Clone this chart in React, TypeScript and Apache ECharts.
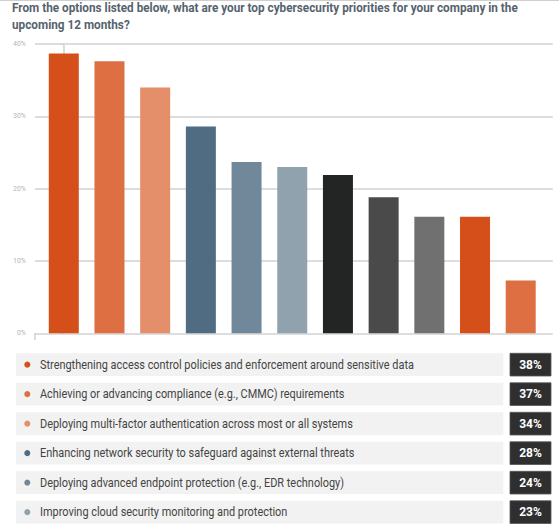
import React, { useEffect, useRef } from "react";
import * as echarts from "echarts";

const titleLines = [
  "From the options listed below, what are your top cybersecurity priorities for your company in the",
  "upcoming 12 months?",
];
const barValues = [38.7, 37.6, 34.0, 28.6, 23.7, 23.0, 21.9, 18.8, 16.1, 16.1, 7.3];
const barColors = [
  "#d44f1a", "#dd6f43", "#e48e6a", "#506c82", "#71889a", "#8fa2ae",
  "#232525", "#4a4a4a", "#707070", "#d44f1a", "#dd6f43",
];
const legendLabels = [
  "Strengthening access control policies and enforcement around sensitive data",
  "Achieving or advancing compliance (e.g., CMMC) requirements",
  "Deploying multi-factor authentication across most or all systems",
  "Enhancing network security to safeguard against external threats",
  "Deploying advanced endpoint protection (e.g., EDR technology)",
  "Improving cloud security monitoring and protection",
];
const legendShares = [38, 37, 34, 28, 24, 23];
const yTicks = [0, 10, 20, 30, 40];

export default function App() {
  const ref = useRef<HTMLDivElement>(null);
  useEffect(() => {
    if (!ref.current) return;
    const chart = echarts.init(ref.current, null, { renderer: "svg" });
    const graphics: any[] = [];
    graphics.push({
      type: "line",
      shape: { x1: 0, y1: 0.5, x2: 559, y2: 0.5 },
      style: { stroke: "#cfcfcf", lineWidth: 1 },
    });
    titleLines.forEach((t, i) => {
      graphics.push({
        type: "text",
        x: 12,
        y: 8 + i * 16.5,
        scaleX: 0.98,
        style: {
          text: t,
          x: 0,
          y: 0,
          fill: "#56636e",
          font: "bold 12px Roboto",
          align: "left",
          verticalAlign: "middle",
          textAlign: "left",
          textVerticalAlign: "middle",
        },
      });
    });
    graphics.push({
      type: "line",
      shape: { x1: 35, y1: 333, x2: 35, y2: 340 },
      style: { stroke: "#dcdcdc", lineWidth: 2 },
    });
    legendLabels.forEach((label, i) => {
      const top = 353.3 + i * 29.5;
      const h = 22.7;
      const cy = top + h / 2;
      graphics.push({
        type: "rect",
        shape: { x: 16, y: top, width: 487.3, height: h },
        style: { fill: "#f2f2f2" },
      });
      graphics.push({
        type: "circle",
        shape: { cx: 27.3, cy, r: 3 },
        style: { fill: barColors[i] },
      });
      graphics.push({
        type: "text",
        x: 40,
        y: cy,
        scaleX: 0.91,
        style: {
          text: label,
          x: 0,
          y: 0,
          fill: "#444444",
          font: "12px Roboto",
          align: "left",
          verticalAlign: "middle",
          textAlign: "left",
          textVerticalAlign: "middle",
        },
      });
      graphics.push({
        type: "rect",
        shape: { x: 510, y: top, width: 41, height: h },
        style: { fill: "#2f2f2f", stroke: "#555555", lineWidth: 0.8 },
      });
      graphics.push({
        type: "text",
        x: 530.5,
        y: cy,
        style: {
          text: legendShares[i] + "%",
          x: 0,
          y: 0,
          fill: "#ffffff",
          font: "bold 12px Roboto",
          align: "center",
          verticalAlign: "middle",
          textAlign: "center",
          textVerticalAlign: "middle",
        },
      });
    });

    chart.setOption({
      animation: false,
      backgroundColor: "#ffffff",
      grid: { left: 35, right: 6.3, top: 44, bottom: 193.7, containLabel: false },
      xAxis: {
        type: "value",
        min: -0.63,
        max: 10.7,
        show: false,
      },
      yAxis: {
        type: "value",
        min: yTicks[0],
        max: yTicks[yTicks.length - 1],
        interval: 10,
        axisLine: { show: true, lineStyle: { color: "#dcdcdc", width: 2 } },
        axisTick: { show: true, length: 3, lineStyle: { color: "#cfcfcf" } },
        minorTick: { show: true, splitNumber: 2, length: 3, lineStyle: { color: "#d8d8d8" } },
        axisLabel: {
          formatter: "{value}%",
          fontSize: 7,
          color: "#b5b5b5",
          fontFamily: "Roboto",
          margin: 9,
        },
        splitLine: { show: true, lineStyle: { color: "#d2d2d2", width: 1.5 } },
      },
      series: [
        {
          type: "bar",
          barWidth: 30,
          data: barValues.map((v, i) => ({
            value: [i, v],
            itemStyle: { color: barColors[i] },
          })),
        },
      ],
      graphic: graphics,
    });
    return () => chart.dispose();
  }, []);
  return (
    <div
      ref={ref}
      style={{ position: "fixed", left: 0, top: 0, width: 559, height: 527, background: "#fff" }}
    />
  );
}
